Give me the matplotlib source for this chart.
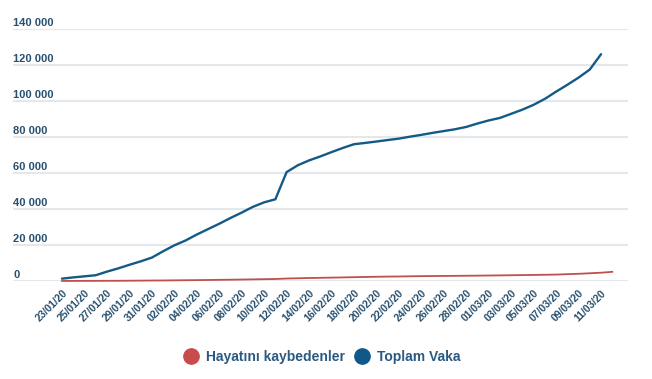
import matplotlib
matplotlib.use("Agg")
import matplotlib.pyplot as plt
import matplotlib.transforms as mtransforms
from matplotlib import font_manager
from matplotlib.lines import Line2D
import numpy as np
import pandas as pd

# Daily dates, 23/01/20 .. 12/03/20
dates = pd.date_range("2020-01-23", "2020-03-12").strftime("%d/%m/%y").tolist()

# Toplam Vaka (total cases), up to 11/03/20
total_cases = [
    1300, 2000, 2600, 3200, 5200, 7000, 9000, 10900, 13000, 16500,
    19800, 22500, 25800, 28800, 31800, 35000, 38000, 41200, 43700, 45400,
    60500, 64300, 67000, 69200, 71600, 73900, 76000, 76700, 77500, 78300,
    79100, 80200, 81200, 82300, 83300, 84300, 85600, 87500, 89200, 90600,
    92900, 95200, 97900, 101200, 105200, 109000, 113000, 117500, 126000,
]

# Hayatını kaybedenler (deaths), up to 12/03/20
deaths = [
    20, 40, 60, 80, 110, 130, 170, 210, 260, 300,
    360, 430, 490, 560, 640, 720, 810, 910, 1020, 1110,
    1370, 1520, 1660, 1770, 1870, 2000, 2120, 2240, 2350, 2460,
    2500, 2620, 2700, 2760, 2810, 2860, 2920, 2980, 3050, 3120,
    3200, 3280, 3380, 3460, 3560, 3800, 4000, 4300, 4600, 5100,
]

y_ticks = [0, 20000, 40000, 60000, 80000, 100000, 120000, 140000]
series_names = ["Hayatını kaybedenler", "Toplam Vaka"]

# pick a condensed font if there is one
available = {f.name for f in font_manager.fontManager.ttflist}
font = "Liberation Sans Narrow" if "Liberation Sans Narrow" in available else "Liberation Sans"
plt.rcParams["font.family"] = [font, "DejaVu Sans"]

red = "#c0504d"
blue = "#135a86"
text_col = "#27506f"

fig = plt.figure(figsize=(6.52, 3.79), dpi=100)
ax = fig.add_axes([13 / 652, 1 - 281 / 379, 615 / 652, 252 / 379])

x_cases = np.arange(len(total_cases))
x_deaths = np.arange(len(deaths))
ax.plot(x_deaths, deaths, color=red, lw=1.3, clip_on=False, zorder=3,
        solid_joinstyle="round")
ax.plot(x_cases, total_cases, color=blue, lw=1.7, clip_on=False, zorder=4,
        solid_joinstyle="round", solid_capstyle="round")

ax.set_xlim(-49 / 11.23, 566 / 11.23)
ax.set_ylim(0, 140000)

for v in y_ticks:
    ax.axhline(v, color="#e4e7eb", lw=1.5, zorder=1)
ax.set_yticks([])
for s in ax.spines.values():
    s.set_visible(False)

# y labels sit on top of the gridlines, left aligned
ylab_tr = mtransforms.offset_copy(ax.get_yaxis_transform(), fig=fig, x=0, y=3, units="dots")
for v in y_ticks:
    ax.text(0, v, f"{v:,}".replace(",", " "), transform=ylab_tr, ha="left", va="baseline",
            fontsize=8, fontweight="bold", color=text_col)

tick_pos = list(range(0, len(total_cases), 2))
ax.set_xticks(tick_pos)
ax.set_xticklabels([dates[i] for i in tick_pos], rotation=45, ha="right",
                   rotation_mode="anchor", fontsize=7.5, fontweight="bold", color=text_col)
ax.tick_params(axis="x", length=0, pad=5)

handles = [Line2D([], [], ls="", marker="o", markersize=11, color="#c64d4c"),
           Line2D([], [], ls="", marker="o", markersize=11, color="#0f598a")]
fig.legend(handles, series_names, loc="center", bbox_to_anchor=(322 / 652, 1 - 357 / 379),
           ncol=2, frameon=False, handlelength=1.0, handletextpad=0.6,
           columnspacing=0.7, labelcolor="#2a5a82", prop={"weight": "bold", "size": 10})

fig.savefig("out.png", dpi=100)
